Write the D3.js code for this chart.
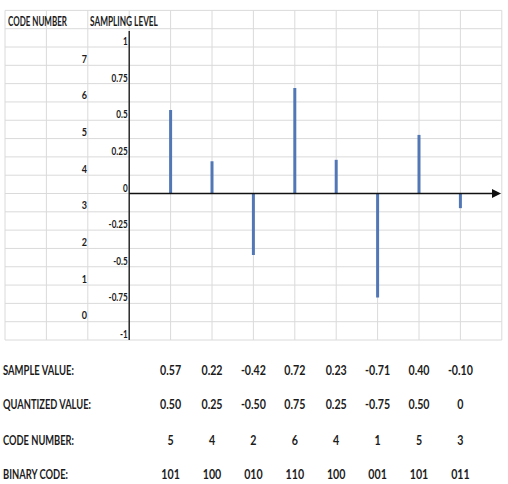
<!DOCTYPE html>
<html>
<head>
<meta charset="utf-8">
<script src="https://cdn.jsdelivr.net/npm/d3@7"></script>
<style>
  html, body { margin: 0; padding: 0; background: #fff; }
  svg { display: block; }
  text { font-family: Lato, "Liberation Sans", sans-serif; fill: #1c1c1c; font-weight: bold; }
</style>
</head>
<body>
<svg id="chart" width="508" height="484"></svg>
<script>
// ---- data ----
const sampleValues    = [0.57, 0.22, -0.42, 0.72, 0.23, -0.71, 0.40, -0.10];
const quantizedLabels = ["0.50", "0.25", "-0.50", "0.75", "0.25", "-0.75", "0.50", "0"];
const codeNumbers     = [5, 4, 2, 6, 4, 1, 5, 3];
const binaryCodes     = ["101", "100", "010", "110", "100", "001", "101", "011"];
const levelTicks      = [1, 0.75, 0.5, 0.25, 0, -0.25, -0.5, -0.75, -1];
const codeTicks       = [0, 1, 2, 3, 4, 5, 6, 7];
const rowLabels       = ["SAMPLE VALUE:", "QUANTIZED VALUE:", "CODE NUMBER:", "BINARY CODE:"];

const svg = d3.select("#chart");

// narrow the glyphs horizontally (about their anchor) to imitate a condensed face
function condense(sel, f) {
  sel.each(function () {
    const t = d3.select(this);
    const tx = +t.attr("x") || 0, ty = +t.attr("y") || 0;
    t.attr("x", 0).attr("y", 0)
     .attr("transform", `translate(${tx},${ty}) scale(${f},1)`);
  });
}
function fitWidth(sel, w) {
  sel.each(function () {
    const L = this.getComputedTextLength();
    condense(d3.select(this), w / L);
  });
}

// column scale: spreadsheet columns, sample i sits on column i+1 from the axis
const x = d3.scaleLinear().domain([0, 9]).range([129.2, 501.8]);
const y = d3.scaleLinear().domain([-1, 1]).range([340, 47]);

// ---- grid ----
const grid = svg.append("g").attr("stroke", "#dadada").attr("stroke-width", 1);
const gridCols = d3.range(-3, 10);
const gridRows = d3.range(-8, 11).map(k => k * 0.125);
grid.selectAll("line.v").data(gridCols).join("line")
  .attr("x1", d => x(d)).attr("x2", d => x(d))
  .attr("y1", y(1.25)).attr("y2", y(-1));
grid.selectAll("line.h").data(gridRows).join("line")
  .attr("x1", x(-3)).attr("x2", x(9))
  .attr("y1", d => y(d)).attr("y2", d => y(d));

// ---- headers ----
fitWidth(svg.append("text").attr("x", 8).attr("y", 25.5)
  .attr("font-size", 13).text("CODE NUMBER"), 59);
fitWidth(svg.append("text").attr("x", 90).attr("y", 25.5)
  .attr("font-size", 13).text("SAMPLING LEVEL"), 68);

// ---- sampling level axis ----
const yAxis = d3.axisLeft(y).tickValues(levelTicks).tickSize(0).tickPadding(1.5)
  .tickFormat(d => String(d));
const gy = svg.append("g").attr("transform", `translate(${x(0)},0)`).call(yAxis);
gy.select(".domain").remove();
gy.attr("font-family", null).attr("font-size", null);
gy.selectAll("text").attr("dy", -2.5).attr("font-size", 11).attr("fill", "#1c1c1c");
condense(gy.selectAll("text"), 0.74);
svg.append("line").attr("x1", x(0)).attr("x2", x(0))
  .attr("y1", y(1.11)).attr("y2", y(-1))
  .attr("stroke", "#111").attr("stroke-width", 1.3);

// ---- code numbers ----
const codes = svg.append("g").selectAll("text").data(codeTicks).join("text")
  .attr("x", 87).attr("y", d => y(-0.875 + 0.25 * d) - 2.5)
  .attr("text-anchor", "end").attr("font-size", 11).text(d => d);
condense(codes, 0.82);

// ---- stems ----
svg.append("g").selectAll("line").data(sampleValues).join("line")
  .attr("x1", (d, i) => x(i + 1)).attr("x2", (d, i) => x(i + 1))
  .attr("y1", y(0)).attr("y2", d => y(d))
  .attr("stroke", "#5277b6").attr("stroke-width", 3);

// ---- time axis with arrow ----
svg.append("line").attr("x1", x(0)).attr("x2", 494)
  .attr("y1", y(0)).attr("y2", y(0))
  .attr("stroke", "#111").attr("stroke-width", 1.3);
svg.append("path")
  .attr("d", `M${492},${y(0) - 4.5}L${501},${y(0)}L${492},${y(0) + 4.5}Z`)
  .attr("fill", "#111");

// ---- table ----
const rows = [
  sampleValues.map(d => d.toFixed(2)),
  quantizedLabels,
  codeNumbers.map(String),
  binaryCodes
];
const rowY = [374.5, 409, 444.5, 479];
const labelW = [71, 88, 71, 65];
const table = svg.append("g");
rowLabels.forEach((lab, r) => {
  fitWidth(table.append("text").attr("x", 3).attr("y", rowY[r])
    .attr("font-size", 12.5).text(lab), labelW[r]);
  const vals = table.append("g").selectAll("text").data(rows[r]).join("text")
    .attr("x", (d, i) => x(i + 1)).attr("y", rowY[r])
    .attr("text-anchor", "middle").attr("font-size", 13)
    .text(d => d);
  condense(vals, 0.82);
});
</script>
</body>
</html>
